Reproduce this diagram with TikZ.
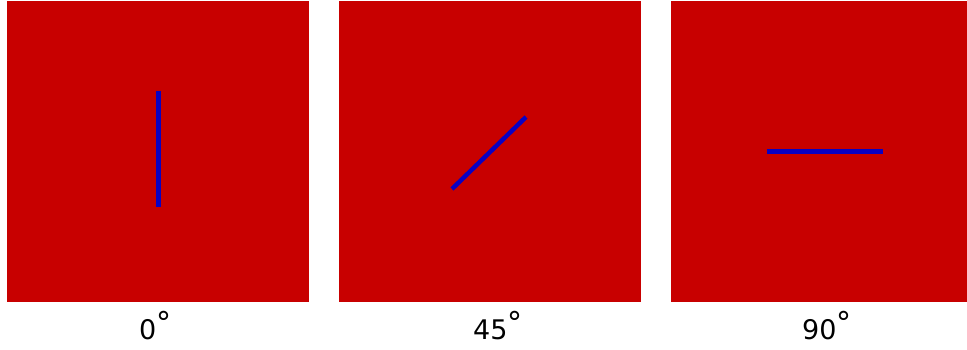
\documentclass[tikz,border=0pt]{standalone}
\usepackage{fontspec}
\setmainfont{DejaVu Sans}
\definecolor{panelred}{RGB}{200,0,0}
\definecolor{barblue}{RGB}{10,0,195}
\tikzset{
  panel/.style={fill=panelred, draw=none},
  bar/.style={draw=barblue, line width=4.5pt},
  lbl/.style={inner sep=0pt, anchor=base west, font=\fontsize{27}{27}\selectfont}
}
\newcommand{\degsym}{\raisebox{5.5pt}{\fontsize{30}{30}\selectfont °}}
\begin{document}
\begin{tikzpicture}[x=1pt,y=-1pt]
\useasboundingbox (0,0) rectangle (967,350);
\fill[white] (0,0) rectangle (967,350);
% panels
\path[panel] (7,1) rectangle (309,302);
\path[panel] (339,1) rectangle (641,302);
\path[panel] (671,1) rectangle (967,302);
% bars
\coordinate (a1) at (158.5,91);
\coordinate (a2) at (158.5,207);
\coordinate (b1) at (452,189);
\coordinate (b2) at (526,117);
\coordinate (c1) at (767,151.5);
\coordinate (c2) at (883,151.5);
\draw[bar] (a1) -- (a2);
\draw[bar] (b1) -- (b2);
\draw[bar] (c1) -- (c2);
% labels
\node[lbl] (l0) at (139,339) {0\degsym};
\node[lbl] (l45) at (473,339) {45\degsym};
\node[lbl] (l90) at (802,339) {90\degsym};
\end{tikzpicture}
\end{document}
